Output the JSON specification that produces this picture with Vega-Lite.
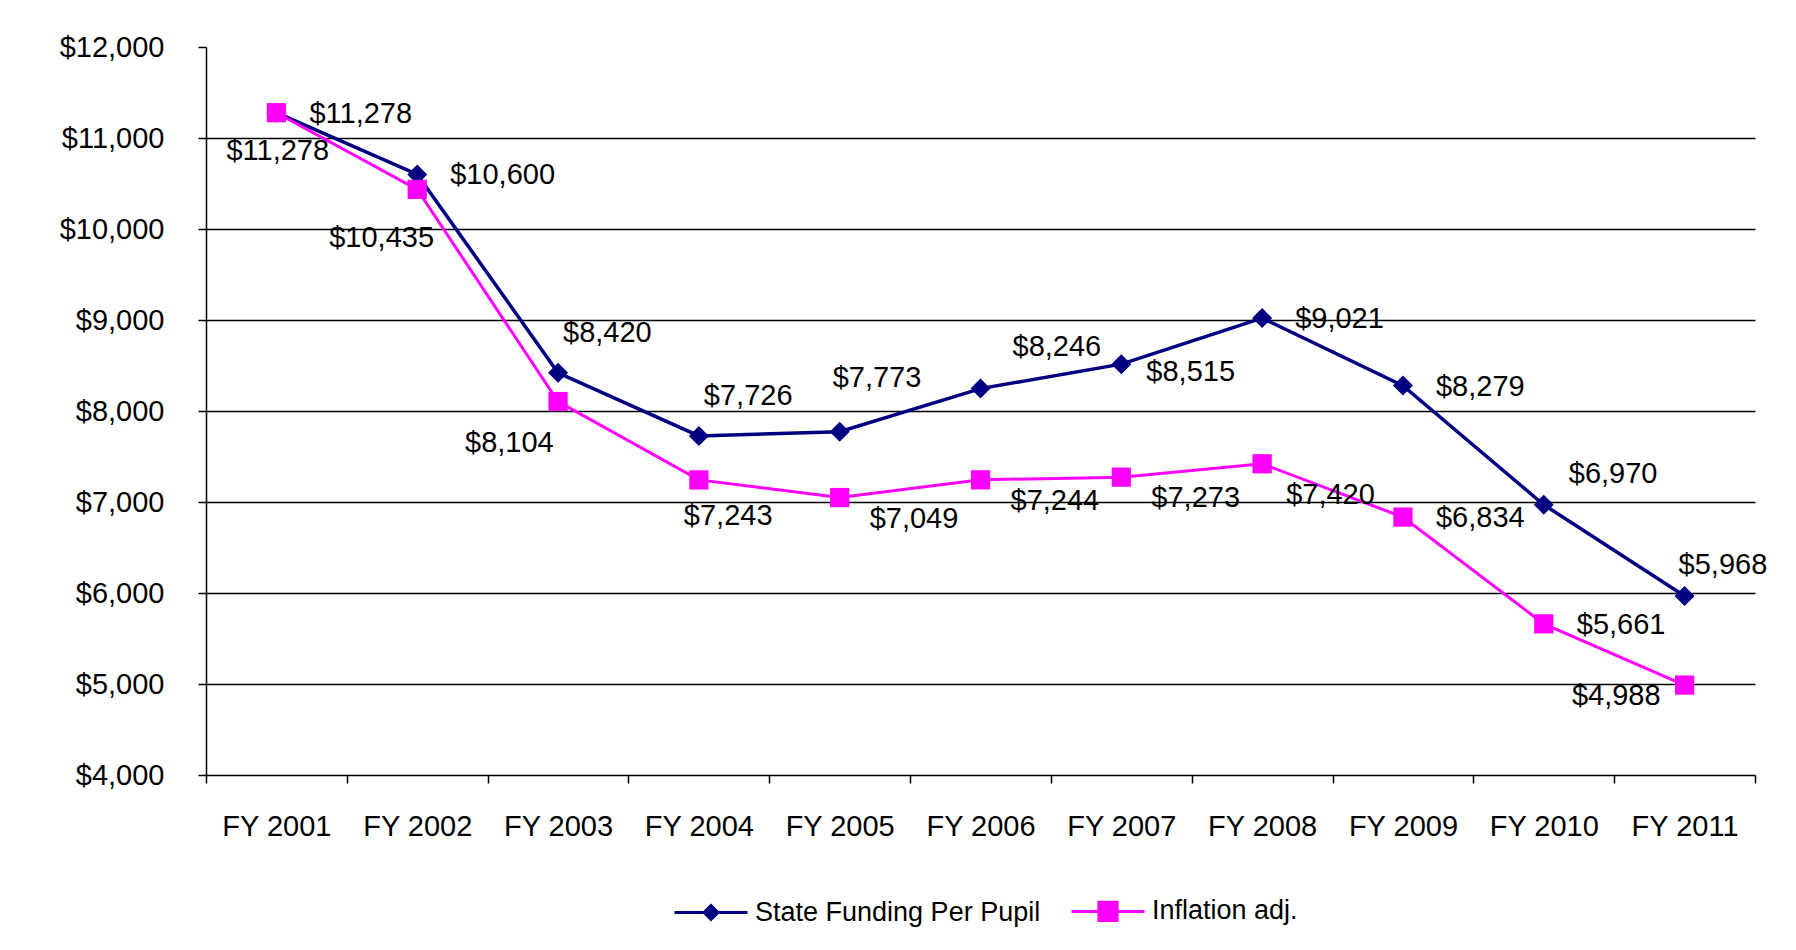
{
  "$schema": "https://vega.github.io/schema/vega-lite/v6.json",
  "width": 1549,
  "height": 728,
  "autosize": "none",
  "padding": {"left": 206, "top": 47, "right": 41, "bottom": 175},
  "background": "white",
  "config": {
    "view": {"stroke": null},
    "font": "Liberation Sans",
    "axis": {"labelFont": "Liberation Sans", "labelFontSize": 29, "labelColor": "#000", "domainColor": "#000", "domainWidth": 1.5, "tickColor": "#000", "tickWidth": 1.5, "tickSize": 8, "title": null},
    "legend": {"labelFont": "Liberation Sans", "labelFontSize": 27, "labelColor": "#000", "labelLimit": 0}
  },
  "data": {"values": [
    {"year": "FY 2001", "series": "State Funding  Per Pupil", "value": 11278},
    {"year": "FY 2002", "series": "State Funding  Per Pupil", "value": 10600},
    {"year": "FY 2003", "series": "State Funding  Per Pupil", "value": 8420},
    {"year": "FY 2004", "series": "State Funding  Per Pupil", "value": 7726},
    {"year": "FY 2005", "series": "State Funding  Per Pupil", "value": 7773},
    {"year": "FY 2006", "series": "State Funding  Per Pupil", "value": 8246},
    {"year": "FY 2007", "series": "State Funding  Per Pupil", "value": 8515},
    {"year": "FY 2008", "series": "State Funding  Per Pupil", "value": 9021},
    {"year": "FY 2009", "series": "State Funding  Per Pupil", "value": 8279},
    {"year": "FY 2010", "series": "State Funding  Per Pupil", "value": 6970},
    {"year": "FY 2011", "series": "State Funding  Per Pupil", "value": 5968},
    {"year": "FY 2001", "series": "Inflation adj.", "value": 11278},
    {"year": "FY 2002", "series": "Inflation adj.", "value": 10435},
    {"year": "FY 2003", "series": "Inflation adj.", "value": 8104},
    {"year": "FY 2004", "series": "Inflation adj.", "value": 7243},
    {"year": "FY 2005", "series": "Inflation adj.", "value": 7049},
    {"year": "FY 2006", "series": "Inflation adj.", "value": 7244},
    {"year": "FY 2007", "series": "Inflation adj.", "value": 7273},
    {"year": "FY 2008", "series": "Inflation adj.", "value": 7420},
    {"year": "FY 2009", "series": "Inflation adj.", "value": 6834},
    {"year": "FY 2010", "series": "Inflation adj.", "value": 5661},
    {"year": "FY 2011", "series": "Inflation adj.", "value": 4988}
  ]},
  "encoding": {
    "x": {"field": "year", "type": "nominal", "sort": null,
      "scale": {"type": "band", "paddingInner": 0, "paddingOuter": 0},
      "axis": {"tickBand": "extent", "labelAngle": 0, "labelPadding": 29, "grid": false}},
    "y": {"field": "value", "type": "quantitative",
      "scale": {"domain": [4000, 12000], "nice": false, "zero": false},
      "axis": {"values": [4000, 5000, 6000, 7000, 8000, 9000, 10000, 11000, 12000], "format": "$,.0f", "labelPadding": 34, "grid": true,
        "gridColor": {"condition": {"test": "datum.value == 12000 || datum.value == 4000", "value": "transparent"}, "value": "#000"}, "gridWidth": 1.5}}
  },
  "layer": [
    {
      "transform": [{"filter": "datum.series === 'State Funding  Per Pupil'"}],
      "mark": {"type": "line", "strokeWidth": 3.5, "color": "#000080"}
    },
    {
      "transform": [{"filter": "datum.series === 'State Funding  Per Pupil'"}],
      "mark": {"type": "point", "shape": "diamond", "filled": true, "opacity": 1, "size": 400, "color": "#000080"}
    },
    {
      "transform": [{"filter": "datum.series === 'Inflation adj.'"}],
      "mark": {"type": "line", "strokeWidth": 3, "color": "#FF00FF"}
    },
    {
      "transform": [{"filter": "datum.series === 'Inflation adj.'"}],
      "mark": {"type": "point", "shape": "square", "filled": true, "opacity": 1, "size": 370, "color": "#FF00FF"}
    },
    {
      "transform": [{"filter": "false"}],
      "mark": {"type": "point", "filled": true, "opacity": 1, "strokeWidth": 3},
      "encoding": {
        "color": {"field": "series", "type": "nominal",
          "scale": {"domain": ["State Funding  Per Pupil", "Inflation adj."], "range": ["#000080", "#FF00FF"]},
          "legend": {"title": null, "orient": "none", "legendX": 467, "legendY": 826, "direction": "horizontal",
            "symbolSize": 5329, "symbolStrokeWidth": 3, "symbolOpacity": 1, "labelOffset": 6, "columnPadding": 17, "padding": 0}},
        "stroke": {"field": "series", "type": "nominal",
          "scale": {"domain": ["State Funding  Per Pupil", "Inflation adj."], "range": ["#000080", "#FF00FF"]},
          "legend": {"title": null, "orient": "none", "legendX": 467, "legendY": 826, "direction": "horizontal",
            "symbolSize": 5329, "symbolStrokeWidth": 3, "symbolOpacity": 1, "labelOffset": 6, "columnPadding": 17, "padding": 0}},
        "shape": {"field": "series", "type": "nominal",
          "scale": {"domain": ["State Funding  Per Pupil", "Inflation adj."], "range": ["M-1,0H1M0,-0.19L0.19,0L0,0.19L-0.19,0Z", "M-1,0H1M-0.25,-0.25H0.25V0.25H-0.25Z"]},
          "legend": {"title": null, "orient": "none", "legendX": 467, "legendY": 826, "direction": "horizontal",
            "symbolSize": 5329, "symbolStrokeWidth": 3, "symbolOpacity": 1, "labelOffset": 6, "columnPadding": 17, "padding": 0}}
      }
    },
    {
      "transform": [{"filter": "(datum.series === 'State Funding  Per Pupil' && indexof(['FY 2001','FY 2002','FY 2008','FY 2009'], datum.year) >= 0) || (datum.series === 'Inflation adj.' && indexof(['FY 2009','FY 2010'], datum.year) >= 0)"}],
      "mark": {"type": "text", "align": "left", "baseline": "middle", "dx": 33, "dy": 1, "fontSize": 29, "font": "Liberation Sans", "color": "#000"},
      "encoding": {"text": {"field": "value", "type": "quantitative", "format": "$,.0f"}}
    },
    {
      "transform": [{"filter": "datum.series === 'State Funding  Per Pupil' && datum.year === 'FY 2007'"}],
      "mark": {"type": "text", "align": "left", "baseline": "middle", "dx": 25, "dy": 8, "fontSize": 29, "font": "Liberation Sans", "color": "#000"},
      "encoding": {"text": {"field": "value", "type": "quantitative", "format": "$,.0f"}}
    },
    {
      "transform": [{"filter": "datum.series === 'State Funding  Per Pupil' && indexof(['FY 2003','FY 2004'], datum.year) >= 0"}],
      "mark": {"type": "text", "align": "left", "baseline": "middle", "dx": 5, "dy": -40, "fontSize": 29, "font": "Liberation Sans", "color": "#000"},
      "encoding": {"text": {"field": "value", "type": "quantitative", "format": "$,.0f"}}
    },
    {
      "transform": [{"filter": "datum.series === 'State Funding  Per Pupil' && datum.year === 'FY 2005'"}],
      "mark": {"type": "text", "align": "left", "baseline": "middle", "dx": -7, "dy": -54, "fontSize": 29, "font": "Liberation Sans", "color": "#000"},
      "encoding": {"text": {"field": "value", "type": "quantitative", "format": "$,.0f"}}
    },
    {
      "transform": [{"filter": "datum.series === 'State Funding  Per Pupil' && datum.year === 'FY 2006'"}],
      "mark": {"type": "text", "align": "left", "baseline": "middle", "dx": 32, "dy": -42, "fontSize": 29, "font": "Liberation Sans", "color": "#000"},
      "encoding": {"text": {"field": "value", "type": "quantitative", "format": "$,.0f"}}
    },
    {
      "transform": [{"filter": "datum.series === 'State Funding  Per Pupil' && datum.year === 'FY 2010'"}],
      "mark": {"type": "text", "align": "left", "baseline": "middle", "dx": 25, "dy": -31, "fontSize": 29, "font": "Liberation Sans", "color": "#000"},
      "encoding": {"text": {"field": "value", "type": "quantitative", "format": "$,.0f"}}
    },
    {
      "transform": [{"filter": "datum.series === 'State Funding  Per Pupil' && datum.year === 'FY 2011'"}],
      "mark": {"type": "text", "align": "left", "baseline": "middle", "dx": -6, "dy": -31, "fontSize": 29, "font": "Liberation Sans", "color": "#000"},
      "encoding": {"text": {"field": "value", "type": "quantitative", "format": "$,.0f"}}
    },
    {
      "transform": [{"filter": "datum.series === 'Inflation adj.' && datum.year === 'FY 2001'"}],
      "mark": {"type": "text", "align": "left", "baseline": "middle", "dx": -50, "dy": 38, "fontSize": 29, "font": "Liberation Sans", "color": "#000"},
      "encoding": {"text": {"field": "value", "type": "quantitative", "format": "$,.0f"}}
    },
    {
      "transform": [{"filter": "datum.series === 'Inflation adj.' && datum.year === 'FY 2002'"}],
      "mark": {"type": "text", "align": "left", "baseline": "middle", "dx": -88, "dy": 49, "fontSize": 29, "font": "Liberation Sans", "color": "#000"},
      "encoding": {"text": {"field": "value", "type": "quantitative", "format": "$,.0f"}}
    },
    {
      "transform": [{"filter": "datum.series === 'Inflation adj.' && datum.year === 'FY 2003'"}],
      "mark": {"type": "text", "align": "left", "baseline": "middle", "dx": -93, "dy": 41, "fontSize": 29, "font": "Liberation Sans", "color": "#000"},
      "encoding": {"text": {"field": "value", "type": "quantitative", "format": "$,.0f"}}
    },
    {
      "transform": [{"filter": "datum.series === 'Inflation adj.' && datum.year === 'FY 2004'"}],
      "mark": {"type": "text", "align": "left", "baseline": "middle", "dx": -15, "dy": 36, "fontSize": 29, "font": "Liberation Sans", "color": "#000"},
      "encoding": {"text": {"field": "value", "type": "quantitative", "format": "$,.0f"}}
    },
    {
      "transform": [{"filter": "datum.series === 'Inflation adj.' && indexof(['FY 2005','FY 2006','FY 2007'], datum.year) >= 0"}],
      "mark": {"type": "text", "align": "left", "baseline": "middle", "dx": 30, "dy": 21, "fontSize": 29, "font": "Liberation Sans", "color": "#000"},
      "encoding": {"text": {"field": "value", "type": "quantitative", "format": "$,.0f"}}
    },
    {
      "transform": [{"filter": "datum.series === 'Inflation adj.' && datum.year === 'FY 2008'"}],
      "mark": {"type": "text", "align": "left", "baseline": "middle", "dx": 24, "dy": 31, "fontSize": 29, "font": "Liberation Sans", "color": "#000"},
      "encoding": {"text": {"field": "value", "type": "quantitative", "format": "$,.0f"}}
    },
    {
      "transform": [{"filter": "datum.series === 'Inflation adj.' && datum.year === 'FY 2011'"}],
      "mark": {"type": "text", "align": "right", "baseline": "middle", "dx": -24, "dy": 11, "fontSize": 29, "font": "Liberation Sans", "color": "#000"},
      "encoding": {"text": {"field": "value", "type": "quantitative", "format": "$,.0f"}}
    }
  ]
}
